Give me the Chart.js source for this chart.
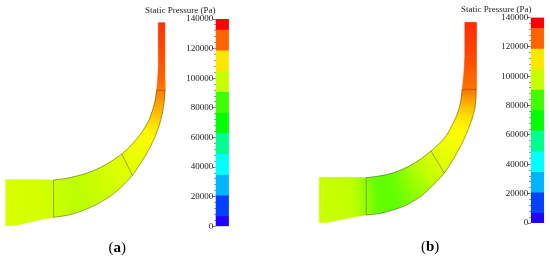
<!DOCTYPE html>
<html lang="en">
<head>
<meta charset="UTF-8">
<title>Static Pressure</title>
<script src="https://cdn.jsdelivr.net/npm/chart.js"></script>
<style>
    body { margin: 0; background: #fff; }
    #wrap { position: relative; width: 550px; height: 260px; overflow: hidden; }
    canvas { position: absolute; top: 0; }
    .txt { position: absolute; font-family: "Liberation Serif", serif; color: #222; white-space: nowrap; }
    .cap { font-size: 15px; color: #000; }
</style>
</head>
<body>
<div id="wrap">
    <canvas id="panelA" width="300" height="260" style="left:0"></canvas>
    <canvas id="panelB" width="250" height="260" style="left:300px"></canvas>
    <div class="txt" style="left:145px;top:5px;font-size:9px">Static Pressure (Pa)</div>
    <div class="txt" style="left:461px;top:4px;font-size:9px">Static Pressure (Pa)</div>
    <div class="txt cap" style="left:108.5px;top:239px">(<b>a</b>)</div>
    <div class="txt cap" style="left:421px;top:238px">(<b>b</b>)</div>
</div>
<script>
// colour bar
const bandLow = [0, 7000, 21000, 35000, 49000, 63000, 77000, 91000, 105000, 119000, 133000];
const bandHigh = [7000, 21000, 35000, 49000, 63000, 77000, 91000, 105000, 119000, 133000, 140000];
const bandColors = ['#2000ff', '#0040ff', '#00b4ff', '#00ffff', '#00ff90', '#00ff00', '#40ff00', '#c8ff00', '#ffe600', '#ff6400', '#ff0000'];

const aInnerX = [475, 475, 475, 473, 470, 466, 458, 447, 430, 410, 388, 365, 335, 300, 265, 230, 195, 160, 120, 80, 50, 16];
const aInnerY = [68, 130, 200, 240, 271, 300, 330, 360, 390, 417, 441, 462, 483, 503, 518, 528, 536, 540, 539, 539, 539, 539];
const aOuterX = [494, 494, 494, 494, 495, 493, 488, 478, 463, 443, 421, 397, 365, 330, 290, 245, 200, 160, 120, 80, 50, 16];
const aOuterY = [68, 130, 200, 240, 271, 300, 335, 375, 415, 455, 491, 526, 560, 589, 613, 633, 646, 652, 659, 668, 675, 678];
const aPressure = [133000, 131000, 128000, 126000, 123000, 119000, 115000, 110000, 106000, 103500, 102000, 101000, 100000, 98500, 97000, 96000, 96500, 98000, 99000, 99000, 99500, 99500];

const bInnerX = [495, 495, 495, 492, 487, 484, 478, 468, 455, 440, 418, 393, 365, 330, 295, 260, 225, 198, 160, 120, 90, 57];
const bInnerY = [67, 120, 170, 220, 268, 295, 325, 352, 379, 406, 431, 453, 475, 497, 513, 524, 530, 533, 532, 532, 532, 532];
const bOuterX = [529, 529, 529, 529, 529, 528, 525, 517, 505, 488, 462, 433, 400, 365, 325, 285, 240, 198, 160, 120, 90, 57];
const bOuterY = [67, 120, 170, 220, 268, 295, 325, 355, 388, 427, 475, 519, 555, 587, 612, 628, 640, 645, 651, 659, 665, 670];
const bPressure = [134000, 132000, 130000, 127000, 124000, 119000, 113000, 109000, 106000, 104000, 102000, 100000, 97000, 92000, 87000, 83000, 83500, 90000, 96000, 97000, 97000, 98000];

function pressureColor(p) {
    return 'hsl(' + (240 * (1 - p / 140000)) + ',100%,50%)';
}

function ductDatasets(innerX, innerY, outerX, outerY, pressure) {
    const sets = [];
    // thin interface lines between the three duct parts
    const edge = (pts) => ({
        type: 'scatter', yAxisID: 'yGeo', showLine: true, fill: false, pointRadius: 0, tension: 0.3,
        borderColor: 'rgba(70,70,30,0.6)', borderWidth: 0.8, data: pts, order: 0
    });
    const cut = (i) => [{x: innerX[i], y: innerY[i]}, {x: outerX[i], y: outerY[i]}];
    sets.push(edge(cut(4)), edge(cut(11)), edge(cut(17)));
    const innerLine = [], outerLine = [];
    for (let i = 4; i <= 17; i++) {
        innerLine.push({x: innerX[i], y: innerY[i]});
        outerLine.push({x: outerX[i], y: outerY[i]});
    }
    sets.push(edge(innerLine), edge(outerLine));

    for (let i = 0; i < innerX.length - 1; i++) {
        const paint = (ctx) => {
            const c = ctx.chart;
            // scales have no size yet on the very first resolve
            if (!c.chartArea) return pressureColor(pressure[i]);
            const sx = c.scales.x, sy = c.scales.yGeo;
            const g = c.ctx.createLinearGradient(
                sx.getPixelForValue((innerX[i] + outerX[i]) / 2), sy.getPixelForValue((innerY[i] + outerY[i]) / 2),
                sx.getPixelForValue((innerX[i + 1] + outerX[i + 1]) / 2), sy.getPixelForValue((innerY[i + 1] + outerY[i + 1]) / 2));
            g.addColorStop(0, pressureColor(pressure[i]));
            g.addColorStop(1, pressureColor(pressure[i + 1]));
            return g;
        };
        sets.push({
            type: 'scatter', yAxisID: 'yGeo', showLine: true, fill: 'shape', pointRadius: 0,
            backgroundColor: paint, borderColor: paint, borderWidth: 0.6, order: 1,
            data: [
                {x: innerX[i], y: innerY[i]}, {x: outerX[i], y: outerY[i]},
                {x: outerX[i + 1], y: outerY[i + 1]}, {x: innerX[i + 1], y: innerY[i + 1]},
                {x: innerX[i], y: innerY[i]}
            ]
        });
    }
    return sets;
}

function makePanel(id, xMax, barLeft, barMid, geoTop, geoBottom, padTop, padBottom, innerX, innerY, outerX, outerY, pressure) {
    const data = ductDatasets(innerX, innerY, outerX, outerY, pressure);
    data.push({
        type: 'bar', yAxisID: 'y', barThickness: 12.5, borderWidth: 0, order: 2,
        backgroundColor: bandColors,
        data: bandLow.map((lo, i) => ({x: barMid, y: [lo, bandHigh[i]]}))
    });
    // an axis at a data position ignores tick length for its labels,
    // so the labels get their own axis and the tick marks two others
    const tickAxis = (step, len, color) => ({
        type: 'linear', min: 0, max: 140000, position: {x: barLeft},
        grid: {display: true, drawOnChartArea: false, tickLength: len, tickColor: color},
        border: {display: false},
        ticks: {stepSize: step, autoSkip: false, callback: () => '', font: {size: 1}}
    });
    const chart = new Chart(document.getElementById(id), {
        type: 'scatter',
        data: {datasets: data},
        options: {
            responsive: false,
            animation: false,
            layout: {padding: {top: padTop, bottom: padBottom, left: 0, right: 0}},
            plugins: {legend: {display: false}, tooltip: {enabled: false}},
            scales: {
                // offset off: the bar dataset would otherwise inset the x scale
                x: {type: 'linear', display: false, offset: false, min: 0, max: xMax},
                yGeo: {type: 'linear', display: false, reverse: true, min: geoTop, max: geoBottom},
                y: {
                    type: 'linear', min: 0, max: 140000, position: {x: barLeft - 9},
                    grid: {display: false},
                    border: {display: false},
                    ticks: {stepSize: 20000, autoSkip: false, padding: 0, color: '#222', font: {family: 'Liberation Serif', size: 9}, callback: (v) => String(v)}
                },
                yMajor: tickAxis(20000, 3, '#555'),
                yMinor: tickAxis(4000, 2, '#999')
            }
        }
    });
    chart.update();
    return chart;
}

makePanel('panelA', 900, 649, 667.5, 57, 679, 19, 33.67, aInnerX, aInnerY, aOuterX, aOuterY, aPressure);
makePanel('panelB', 750, 695, 713.5, 52.5, 669, 17.5, 37, bInnerX, bInnerY, bOuterX, bOuterY, bPressure);
</script>
</body>
</html>
